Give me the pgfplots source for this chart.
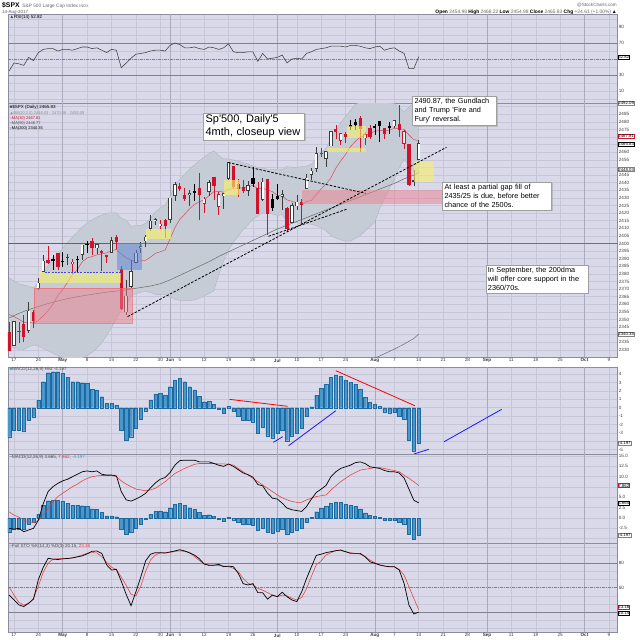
\documentclass[border=0pt]{standalone}
\usepackage{pgfplots}
\usepackage{pgfplotstable}
\pgfplotsset{compat=1.18}
\usetikzlibrary{shadows}
\usepackage{fontspec}
\setmainfont{Liberation Sans}

\definecolor{bgc}{RGB}{217,217,233}
\definecolor{gridc}{RGB}{198,198,216}
\definecolor{monthc}{RGB}{170,170,190}
\definecolor{framec}{RGB}{140,140,156}
\definecolor{cred}{RGB}{208,18,44}
\definecolor{cblk}{RGB}{60,60,60}
\definecolor{bbfill}{RGB}{198,204,214}
\definecolor{bbedge}{RGB}{176,182,194}
\definecolor{histf}{RGB}{72,152,204}
\definecolor{histd}{RGB}{30,105,160}
\definecolor{refl}{RGB}{128,128,142}
\definecolor{pinkc}{RGB}{236,128,142}
\definecolor{yelc}{RGB}{247,240,105}
\definecolor{bluec}{RGB}{95,135,212}
\definecolor{tickt}{RGB}{60,60,60}
\definecolor{ma50c}{RGB}{100,108,100}
\definecolor{ma200c}{RGB}{100,110,130}
\definecolor{sigc}{RGB}{232,60,60}
\definecolor{lred}{RGB}{245,35,35}
\definecolor{lgreen}{RGB}{35,165,45}

\newcommand\tf{\fontsize{4.6}{5}\selectfont}
\newcommand\lf{\fontsize{4.5}{5}\selectfont}
\newcommand\q{\textquotesingle}

% ---------- data ----------
\pgfplotstableread{
x o h l c
0 2332.62 2349.14 2332.51 2349.01
3 2342.69 2361.37 2340.91 2355.84
5 2370.33 2376.98 2369.19 2374.15
6 2381.51 2392.48 2381.15 2388.61
11 2391.05 2392.93 2385.82 2391.17
14 2392.37 2399.29 2389.38 2399.29
17 2396.79 2399.74 2392.79 2399.63
20 2393.98 2404.05 2393.94 2402.32
23 2354.69 2375.74 2352.72 2365.72
24 2371.37 2389.06 2370.43 2381.73
25 2387.21 2395.46 2386.92 2394.02
26 2397.04 2400.85 2393.88 2398.42
27 2401.41 2405.58 2397.99 2404.39
28 2409.54 2418.71 2408.01 2415.07
29 2414.50 2416.68 2412.20 2415.82
32 2415.65 2430.06 2413.54 2430.06
33 2431.28 2440.23 2427.71 2439.07
36 2432.03 2435.28 2424.75 2433.14
40 2434.15 2441.49 2431.28 2440.35
43 2431.24 2433.15 2422.88 2433.15
44 2442.55 2453.82 2441.79 2453.46
48 2434.65 2441.40 2431.11 2438.30
51 2428.70 2442.97 2428.02 2440.69
55 2430.78 2434.90 2422.05 2432.54
57 2413.52 2426.92 2413.52 2425.18
58 2424.51 2432.00 2422.27 2427.43
60 2435.75 2445.76 2435.75 2443.25
61 2444.99 2449.32 2441.69 2447.83
62 2449.16 2463.54 2446.69 2459.27
64 2455.88 2460.92 2450.34 2460.61
65 2463.85 2473.83 2463.85 2473.83
78 2477.14 2480.95 2475.88 2480.91
82 2441.04 2448.09 2437.85 2441.32
83 2454.98 2468.22 2454.98 2465.83
}\hb
\pgfplotstableread{
x o h l c
12 2386.50 2389.82 2379.75 2388.13
30 2411.67 2415.26 2409.43 2412.91
39 2425.88 2430.38 2419.97 2429.39
42 2424.14 2433.95 2418.53 2432.46
67 2467.40 2472.54 2465.06 2472.54
72 2469.12 2473.53 2464.66 2472.10
80 2465.35 2474.41 2462.08 2474.02
}\hr
\pgfplotstableread{
x o h l c
8 2389.70 2392.10 2382.68 2388.77
10 2388.50 2394.49 2384.83 2388.33
13 2389.79 2391.43 2380.35 2389.52
15 2399.94 2401.36 2393.92 2399.38
37 2434.27 2439.27 2427.94 2433.79
49 2443.32 2450.42 2437.03 2439.07
53 2429.20 2432.71 2421.65 2423.41
54 2431.39 2439.17 2428.69 2429.01
69 2477.88 2481.24 2474.91 2477.13
70 2479.97 2481.69 2474.94 2477.83
74 2477.10 2478.51 2471.14 2476.35
75 2480.38 2480.38 2466.48 2477.57
77 2476.88 2480.00 2472.08 2476.83
}\fb
\pgfplotstableread{
x o h l c
-1 2341.98 2348.26 2328.95 2328.95
1 2342.53 2348.35 2334.54 2342.19
2 2346.79 2352.63 2335.05 2338.17
4 2354.74 2356.18 2344.51 2348.69
7 2388.98 2398.16 2386.78 2387.45
9 2393.68 2393.68 2382.36 2384.20
16 2401.58 2403.87 2392.44 2396.92
18 2394.84 2395.72 2381.74 2394.44
19 2392.44 2392.44 2387.19 2390.90
21 2404.55 2405.77 2396.05 2400.67
22 2382.95 2384.87 2356.21 2357.03
31 2415.63 2415.99 2403.59 2411.80
34 2437.83 2439.54 2434.32 2436.10
35 2431.92 2436.21 2428.12 2429.33
38 2436.39 2446.20 2415.70 2431.77
41 2443.75 2443.75 2428.34 2437.92
45 2450.66 2450.66 2436.60 2437.03
46 2439.31 2442.23 2430.74 2435.61
47 2437.40 2441.62 2433.27 2434.50
50 2436.34 2440.15 2419.38 2419.38
52 2442.38 2442.73 2405.70 2419.70
56 2423.44 2424.28 2407.70 2409.75
59 2427.35 2429.30 2412.79 2425.53
63 2459.50 2462.82 2457.16 2459.14
66 2475.56 2477.62 2468.43 2473.45
68 2472.04 2473.10 2466.32 2469.91
71 2482.76 2484.04 2459.93 2475.42
73 2475.94 2477.96 2468.53 2470.30
76 2476.03 2476.03 2468.85 2472.16
79 2478.35 2490.87 2470.32 2474.92
81 2465.38 2465.38 2437.75 2438.21
}\fr
% Bollinger band outline: upper band forward, lower band backward
\pgfplotstableread{
x v
-1 2377.4
0 2375.3
1 2373.4
2 2372.7
3 2371.9
4 2370.8
5 2374.5
6 2380.9
7 2385.3
8 2389.5
9 2392.8
10 2396.8
11 2400.8
12 2404.2
13 2407.6
14 2410.8
15 2413.5
16 2415.5
17 2417.4
18 2418.6
19 2419.9
20 2420.2
21 2420.1
22 2416.6
23 2415.3
24 2411.2
25 2411.8
26 2411.9
27 2413.2
28 2416.5
29 2420.8
30 2423.3
31 2425.3
32 2431.0
33 2437.7
34 2442.2
35 2445.4
36 2448.8
37 2451.7
38 2454.4
39 2456.8
40 2459.0
41 2460.9
42 2457.7
43 2455.6
44 2455.6
45 2454.8
46 2454.2
47 2453.1
48 2452.3
49 2450.9
50 2449.8
51 2449.8
52 2448.7
53 2448.5
54 2448.7
55 2448.5
56 2450.6
57 2450.1
58 2450.1
59 2450.5
60 2450.9
61 2452.2
62 2455.7
63 2459.6
64 2462.4
65 2469.2
66 2474.7
67 2479.6
68 2483.6
69 2487.4
70 2491.4
71 2493.1
72 2495.4
73 2497.1
74 2498.7
75 2494.7
76 2493.8
77 2492.4
78 2492.1
79 2489.6
80 2486.7
81 2489.7
82 2492.3
83 2492.1
83 2448.0
82 2447.1
81 2451.6
80 2455.5
79 2449.6
78 2442.1
77 2436.4
76 2429.8
75 2422.7
74 2414.2
73 2411.1
72 2408.2
71 2405.1
70 2403.4
69 2401.5
68 2401.6
67 2402.4
66 2403.5
65 2405.2
64 2408.3
63 2410.4
62 2411.7
61 2412.6
60 2412.9
59 2412.9
58 2413.7
57 2414.1
56 2414.6
55 2418.9
54 2418.5
53 2419.3
52 2420.7
51 2420.6
50 2417.8
49 2416.0
48 2412.3
47 2409.1
46 2405.0
45 2400.8
44 2395.6
43 2388.4
42 2379.7
41 2368.9
40 2367.0
39 2365.5
38 2364.0
37 2362.9
36 2362.4
35 2362.2
34 2362.4
33 2363.3
32 2365.0
31 2366.5
30 2366.5
29 2366.5
28 2367.7
27 2368.4
26 2367.9
25 2367.0
24 2365.6
23 2358.2
22 2356.0
21 2350.6
20 2344.6
19 2339.6
18 2334.6
17 2331.0
16 2328.3
15 2326.3
14 2324.6
13 2323.6
12 2323.4
11 2324.0
10 2324.8
9 2326.1
8 2327.9
7 2329.3
6 2330.9
5 2332.5
4 2333.2
3 2331.9
2 2330.3
1 2330.2
0 2331.3
-1 2332.2
}\bbpoly
\pgfplotstableread{
x v
-1 2353.25
0 2351.88
1 2350.22
2 2348.02
3 2348.31
4 2347.43
5 2349.29
6 2352.43
7 2355.80
8 2360.18
9 2365.71
10 2369.64
11 2374.54
12 2379.53
13 2382.90
14 2387.96
15 2390.48
16 2391.32
17 2392.53
18 2393.10
19 2393.77
20 2395.17
21 2396.12
22 2393.01
23 2390.63
24 2388.87
25 2388.34
26 2388.49
27 2388.96
28 2391.03
29 2393.52
30 2394.58
31 2395.69
32 2402.99
33 2410.33
34 2415.77
35 2419.30
36 2422.77
37 2425.71
38 2427.38
39 2428.74
40 2431.48
41 2434.09
42 2434.33
43 2433.74
44 2435.48
45 2436.25
46 2436.49
47 2436.56
48 2437.22
49 2438.19
50 2436.09
51 2436.37
52 2435.09
53 2434.12
54 2431.67
55 2431.22
56 2428.64
57 2427.70
58 2426.62
59 2425.26
60 2427.65
61 2428.36
62 2432.32
63 2435.89
64 2439.05
65 2443.18
66 2449.55
67 2454.29
68 2458.54
69 2463.70
70 2467.15
71 2469.91
72 2471.20
73 2472.31
74 2473.89
75 2474.26
76 2474.13
77 2474.56
78 2475.66
79 2475.44
80 2475.06
81 2471.34
82 2468.26
83 2467.81
}\maten
\pgfplotstableread{
x v
-1 2351
1 2354
3 2356.5
5 2358.5
7 2360.5
10 2363
13 2365
16 2366.5
19 2368
22 2369
25 2370.5
28 2372
30 2373.5
32 2376
34 2379
36 2382
38 2385
40 2388
42 2391.5
44 2394.5
46 2397.5
48 2400.5
50 2403.5
52 2406.5
54 2409.5
56 2412
58 2414.5
60 2417
62 2419.5
64 2422
66 2424.5
68 2427
70 2429.5
72 2432
74 2434.5
76 2437
78 2439.5
80 2442.5
82 2445
83 2446.77
}\mafifty
\pgfplotstableread{
x v
72 2321.5
74 2324.5
76 2327.5
78 2330.5
80 2333.8
82 2337.5
83 2340.35
}\matwo
\pgfplotstableread{
x v
-1 35
0 45
1 44
2 42
3 52
4 48
5 58
6 62
7 63
8 63
9 60
10 62
11 62
12 61
13 63
14 65
15 65
16 63
17 64
18 61
19 58
20 62
21 61
22 39
23 45
24 51
25 56
26 57
27 58
28 60
29 61
30 61
31 60
32 67
33 70
34 68
35 64
36 64
37 65
38 63
39 62
40 65
41 64
42 62
43 64
44 69
45 59
46 58
47 58
48 59
49 59
50 47
51 57
52 50
53 51
54 52
55 55
56 45
57 50
58 51
59 50
60 57
61 59
62 62
63 63
64 64
65 66
66 66
67 66
68 65
69 67
70 67
71 66
72 64
73 63
74 65
75 66
76 61
77 63
78 64
79 60
80 57
81 38
82 38
83 52.82
}\rsi
\pgfplotstableread{
x v
-1 -3.47
0 -2.67
1 -2.67
2 -2.75
3 -1.48
4 -1.08
5 0.92
6 3.11
7 4.19
8 4.31
9 4.31
10 4.11
11 3.63
12 3.11
13 3.11
14 2.99
15 2.91
16 2.20
17 2.12
18 1.32
19 0.52
20 0.52
21 0.32
22 -2.67
23 -3.87
24 -3.47
25 -2.48
26 -1.40
27 -0.36
28 0.92
29 1.64
30 1.72
31 1.52
32 2.51
33 3.31
34 3.51
35 3.11
36 2.51
37 2.12
38 1.40
39 0.72
40 0.80
41 0.44
42 -0.20
43 -0.68
44 0.20
45 -0.40
46 -1.00
47 -1.48
48 -1.48
49 -1.68
50 -3.00
51 -2.36
52 -3.35
53 -3.59
54 -3.07
55 -2.67
56 -3.95
57 -3.35
58 -3.00
59 -2.48
60 -1.00
61 0.12
62 1.52
63 2.32
64 2.79
65 3.63
66 3.91
67 3.79
68 3.31
69 3.03
70 2.83
71 2.20
72 1.24
73 0.64
74 0.44
75 0.20
76 -0.48
77 -0.60
78 -0.56
79 -1.00
80 -1.40
81 -3.87
82 -5.15
83 -4.197
}\hist
\pgfplotstableread{
x m s
-1 -2.5 1.5
0 -2.7 0.7
1 -2.5 0.2
2 -3.3 -0.5
3 -2.9 -0.9
4 -2.5 -1.1
5 -0.5 -0.6
6 3.5 0.7
7 6.4 2.3
8 7.6 3.9
9 8.4 5.2
10 9.0 6.0
11 9.4 6.8
12 10.0 7.6
13 10.6 8.2
14 11.2 9.0
15 11.4 9.6
16 11.2 10.0
17 11.4 10.2
18 10.6 10.3
19 10.4 10.3
20 10.4 10.3
21 10.2 10.0
22 6.4 9.0
23 4.4 8.2
24 4.1 7.6
25 4.6 7.0
26 5.2 6.8
27 6.0 6.6
28 7.3 6.8
29 8.5 7.2
30 9.4 8.0
31 9.8 8.8
32 11.0 9.8
33 12.8 10.8
34 13.9 11.4
35 14.0 12.0
36 14.0 12.5
37 14.0 13.0
38 13.6 13.2
39 13.6 13.2
40 13.6 13.2
41 13.2 13.2
42 12.8 13.1
43 12.5 13.1
44 13.1 13.0
45 12.5 12.8
46 11.7 12.0
47 10.9 11.2
48 10.5 10.4
49 9.9 9.6
50 8.1 8.8
51 7.8 8.0
52 6.0 7.2
53 4.8 6.4
54 4.6 5.6
55 3.6 4.9
56 2.4 4.4
57 2.0 4.0
58 1.8 3.8
59 1.6 3.8
60 2.8 4.4
61 4.6 4.8
62 6.2 5.2
63 7.0 5.4
64 7.9 5.6
65 10.0 6.8
66 11.2 7.8
67 12.0 8.8
68 12.4 9.6
69 12.8 10.4
70 13.4 11.0
71 13.6 11.6
72 13.2 11.8
73 12.4 12.0
74 12.2 12.2
75 12.0 12.2
76 11.5 12.0
77 11.2 11.7
78 11.2 11.5
79 10.9 11.2
80 9.7 10.4
81 7.0 9.6
82 4.3 8.8
83 3.665 7.862
}\macd
\pgfplotstableread{
x k d
-1 41 51
0 35 41
1 29 32
2 27 28.8
3 31 30.8
4 36 37
5 60 52
6 75 69
7 86 80
8 85 85
9 84.5 85.5
10 85.3 85.5
11 85.8 85.5
12 86.5 86.5
13 87.7 88
14 89 90
15 91.5 92
16 94.5 92.9
17 94.9 92.5
18 92 88
19 78 81
20 71.6 75
21 72.5 72
22 58 63
23 42 53
24 28 42
25 45 40
26 63 52
27 83 70
28 91 84
29 92.9 90
30 92.9 92.5
31 92.3 92.9
32 93.8 93
33 95 94.5
34 96.5 95
35 95 94.5
36 92.5 93.5
37 90 88
38 85.5 83.5
39 79 79
40 77.3 77.8
41 77.6 77.3
42 78.5 77.3
43 75.7 76.5
44 76.4 75.7
45 75.7 73.7
46 67.6 69.6
47 55 61.4
48 53.3 55.3
49 55 53.3
50 44 49.2
51 43.9 47.1
52 36 43.9
53 41 41
54 39 39
55 44.5 41
56 39 40
57 35 37
58 33 35
59 45 38
60 61.4 49
61 75.7 64
62 89.6 78
63 91 83
64 92.9 90
65 94.1 92.9
66 95.3 95.3
67 96.1 95.3
68 94.1 94.1
69 92 92.9
70 92 92
71 92 91.2
72 88 88
73 81.8 83.9
74 79.8 80.6
75 77.8 77.8
76 76.5 76.5
77 75.7 75.7
78 75.7 75.7
79 71.6 72.4
80 55.3 65.5
81 28.8 51.2
82 17.8 36.9
83 20.15 23.16
}\sto

% ---------- styles ----------
\pgfplotsset{
 scp/.style={
  scale only axis, width=609.7pt, xmin=-1.23, xmax=123.81,
  anchor=north west,
  axis background/.style={fill=bgc},
  axis line style={draw=framec, line width=0.6pt},
  grid=major, major grid style={draw=gridc, line width=0.45pt},
  minor grid style={draw=gridc, line width=0.45pt},
  tick style={draw=none},
  xtick={0,5,15,20,25,30,34,39,44,49,58,63,68,78,83,88,93,102,107,112,122},
  xticklabels={},
  extra x ticks={10,32,54,74,97,117},
  extra x tick labels={},
  extra x tick style={grid=major, major grid style={draw=monthc, line width=0.55pt}},
  yticklabel pos=right,
  yticklabel style={font=\tf, text=tickt, inner sep=1pt},
  xticklabel style={font=\tf, text=tickt, inner sep=1pt, yshift=-0.5pt},
  /pgf/number format/1000 sep={},
  /pgf/number format/assume math mode=true,
 },
 datelabels/.style={
  xticklabels={17,24,8,15,22,30,5,12,19,26,10,17,24,7,14,21,28,11,18,25,9},
  extra x tick labels={\textbf{May},\textbf{Jun},\textbf{Jul},\textbf{Aug},\textbf{Sep},\textbf{Oct}},
 },
 wick/.style={draw=none, mark=none, forget plot, error bars/.cd, y dir=both, y explicit, error mark=none, error bar style={draw=#1, line width=0.6pt}},
 body/.style 2 args={draw=none, mark=none, forget plot, error bars/.cd, y dir=both, y explicit, error mark=none, error bar style={draw=#1, line width=#2}},
}
\newcommand\WICK[2]{\addplot[wick=#2] table[x=x, y expr={(\thisrow{h}+\thisrow{l})/2}, y error expr={(\thisrow{h}-\thisrow{l})/2}] {#1};}
\newcommand\BODY[2]{\addplot[body={#2}{3.3pt}] table[x=x, y expr={(\thisrow{o}+\thisrow{c})/2}, y error expr={max(abs(\thisrow{o}-\thisrow{c})/2,0.25)}] {#1};}
\newcommand\HOLE[1]{\addplot[body={white}{1.9pt}] table[x=x, y expr={(\thisrow{o}+\thisrow{c})/2}, y error expr={max(abs(\thisrow{o}-\thisrow{c})/2-0.42,0)}] {#1};}

\tikzset{
 tag/.style={draw=#1, fill=white, font=\fontsize{4.3}{4.6}\selectfont, inner sep=0.5pt, anchor=west, text=black, line width=0.4pt},
 note/.style={draw=gray!75, fill=white, line width=0.5pt, align=left, anchor=north west, inner sep=2pt,
   drop shadow={shadow xshift=1.2pt, shadow yshift=-1.2pt, fill=gray!70, opacity=0.6}},
}

\begin{document}
\begin{tikzpicture}[x=1pt,y=1pt]
\path[use as bounding box, fill=white] (0pt,0pt) rectangle (640pt,-640pt);

% ===== RSI =====
\begin{axis}[scp, at={(8pt,-14pt)}, height=89pt, ymin=-5, ymax=106.25,
  ytick={10,30,50,70,90}, yticklabels={10,30,{},70,90},
  minor ytick={0,20,40,60,80,100}, grid=both]
\draw[refl, line width=0.8pt] (axis cs:-1.23,70) -- (axis cs:123.81,70);
\draw[refl, line width=0.8pt] (axis cs:-1.23,30) -- (axis cs:123.81,30);
\draw[refl, line width=0.5pt, dash pattern=on 3pt off 1pt on 1pt off 1pt] (axis cs:-1.23,50) -- (axis cs:123.81,50);
\addplot[draw=black!75, line width=0.55pt] table[x=x,y=v]{\rsi};
\coordinate (tRSI) at (axis cs:123.81,52.82);
\end{axis}

% ===== Price =====
\begin{axis}[scp, datelabels, at={(8pt,-103pt)}, height=254pt, ymin=2325.3, ymax=2492.4,
  ytick={2330,2335,...,2490},
  yticklabels={2330,2335,{},2345,2350,2355,2360,2365,2370,2375,2380,2385,2390,2395,2400,2405,2410,2415,2420,2425,2430,2435,2440,2445,{},2455,2460,{},{},2475,2480,2485,{}}]
\addplot[fill=bbfill, draw=bbedge, line width=0.4pt] table[x=x,y=v]{\bbpoly};
\addplot[draw=ma50c, line width=0.5pt] table[x=x,y=v]{\mafifty};
\addplot[draw=ma200c, line width=0.5pt] table[x=x,y=v]{\matwo};
\addplot[draw=cred!80, line width=0.45pt] table[x=x,y=v]{\maten};
% 2400 reference line (red then green)
\draw[color=lred, line width=1pt] (axis cs:-1.23,2400) -- (axis cs:21.2,2400);
\draw[color=lgreen, line width=1pt] (axis cs:21.2,2400) -- (axis cs:123.81,2400);
% candles
\WICK{\hb}{cblk}
\WICK{\fb}{black}
\WICK{\hr}{cred}
\WICK{\fr}{cred}
\BODY{\hb}{cblk}
\HOLE{\hb}
\BODY{\hr}{cred}
\HOLE{\hr}
\BODY{\fb}{black}
\BODY{\fr}{cred}
% zones
\fill[pinkc, opacity=0.5] (axis cs:4.2,2347.9) rectangle (axis cs:24.3,2370.5);
\draw[pinkc!70!red, line width=0.3pt, opacity=0.6] (axis cs:4.2,2347.9) rectangle (axis cs:24.3,2370.5);
\fill[yelc, opacity=0.6] (axis cs:5.2,2374.2) rectangle (axis cs:21.9,2381.0);
\draw[blue!75, line width=0.7pt, dash pattern=on 2pt off 1.2pt] (axis cs:6.4,2381.0) -- (axis cs:21.9,2381.0);
\fill[bluec, opacity=0.55] (axis cs:21.2,2382.6) rectangle (axis cs:26.2,2400.1);
\fill[yelc, opacity=0.65] (axis cs:27.0,2403.2) rectangle (axis cs:32.1,2409.3);
\fill[yelc, opacity=0.65] (axis cs:43.1,2431.9) rectangle (axis cs:46.2,2441.8);
\fill[pinkc, opacity=0.5] (axis cs:59.0,2425.8) rectangle (axis cs:87.8,2435.2);
\fill[yelc, opacity=0.6] (axis cs:68.2,2469.2) rectangle (axis cs:72.1,2477.3);
\fill[yelc, opacity=0.6] (axis cs:64.1,2460.4) rectangle (axis cs:72.1,2462.6);
\fill[yelc, opacity=0.6] (axis cs:82.1,2440.7) rectangle (axis cs:86.1,2454.3);
% trend lines
\draw[black, line width=0.8pt, dash pattern=on 2.5pt off 1.5pt] (axis cs:23.3,2351.9) -- (axis cs:88.7,2463.3);
\draw[black, line width=0.8pt, dash pattern=on 2.5pt off 1.5pt] (axis cs:43.95,2453.2) -- (axis cs:72.1,2433.0);
\draw[black, line width=0.8pt, dash pattern=on 2.5pt off 1.5pt] (axis cs:52.2,2404.7) -- (axis cs:68.2,2422.5);
\coordinate (tBBU) at (axis cs:123.81,2492.09);
\coordinate (tMA10) at (axis cs:123.81,2470.8);
\coordinate (tPX) at (axis cs:123.81,2465.6);
\coordinate (tBBL) at (axis cs:123.81,2448.6);
\coordinate (tMA200) at (axis cs:123.81,2340.35);
\end{axis}

% ===== MACD histogram =====
\begin{axis}[scp, at={(8pt,-367pt)}, height=87pt, ymin=-5.54, ymax=4.87,
  ytick={-5,-4,...,4}, yticklabels={-5,{},-3,-2,-1,0,1,2,3,4}]
\addplot[ybar, bar width=3.3pt, fill=histf, draw=histd, line width=0.3pt] table[x=x,y=v]{\hist};
\draw[red, line width=0.8pt] (axis cs:44.2,1.0) -- (axis cs:56.1,0.17);
\draw[red, line width=0.8pt] (axis cs:66.0,4.43) -- (axis cs:82.2,0.24);
\draw[blue!90, line width=0.8pt] (axis cs:53.2,-4.14) -- (axis cs:55.1,-3.47);
\draw[blue!90, line width=0.8pt] (axis cs:56.3,-4.55) -- (axis cs:66.0,-0.36);
\draw[blue!90, line width=0.8pt] (axis cs:82.0,-5.54) -- (axis cs:85.1,-4.97);
\draw[blue!90, line width=0.8pt] (axis cs:88.2,-4.07) -- (axis cs:100.0,-0.2);
\coordinate (tHIST) at (axis cs:123.81,-4.197);
\end{axis}

% ===== MACD =====
\begin{axis}[scp, at={(8pt,-454pt)}, height=89pt, ymin=-6.05, ymax=15.5,
  ytick={-5,-2.5,...,15},
  yticklabels={{},-2.5,0.0,2.5,5.0,{},10.0,12.5,15.0}]
\addplot[ybar, bar width=3.3pt, fill=histf, draw=histd, line width=0.3pt] table[x=x,y=v]{\hist};
\addplot[draw=sigc, line width=0.55pt] table[x=x,y=s]{\macd};
\addplot[draw=black, line width=0.7pt] table[x=x,y=m]{\macd};
\coordinate (tSIG) at (axis cs:123.81,7.862);
\coordinate (tMACD) at (axis cs:123.81,3.665);
\coordinate (tMH) at (axis cs:123.81,-4.197);
\end{axis}

% ===== Full STO =====
\begin{axis}[scp, datelabels, at={(8pt,-543pt)}, height=89pt, ymin=-4.2, ymax=104.7,
  ytick={20,50,80}, yticklabels={{},50,80},
  minor ytick={0,10,30,40,60,70,90,100}, grid=both]
\draw[refl, line width=0.8pt] (axis cs:-1.23,80) -- (axis cs:123.81,80);
\draw[refl, line width=0.8pt] (axis cs:-1.23,20) -- (axis cs:123.81,20);
\draw[refl, line width=0.5pt, dash pattern=on 3pt off 1pt on 1pt off 1pt] (axis cs:-1.23,50) -- (axis cs:123.81,50);
\addplot[draw=sigc, line width=0.55pt] table[x=x,y=d]{\sto};
\addplot[draw=black, line width=0.7pt] table[x=x,y=k]{\sto};
\coordinate (tD) at (axis cs:123.81,26.3);
\coordinate (tK) at (axis cs:123.81,18.6);
\end{axis}

% ===== value tags =====
\node[tag=black] at (tRSI) {52.82};
\node[tag=gray] at (tBBU) {2492.09};
\node[tag=cred] at (tMA10) {2467.81};
\node[tag=black] at (tPX) {2465.83};
\node[tag=gray] at (tBBL) {2448.03};
\node[tag=gray] at (tMA200) {2340.35};
\node[tag=gray] at (tHIST) {-4.197};
\node[tag=cred] at (tSIG) {7.862};
\node[tag=black] at (tMACD) {3.665};
\node[tag=gray] at (tMH) {-4.197};
\node[tag=cred] at (tD) {23.16};
\node[tag=black] at (tK) {20.15};

% ===== header =====
\node[anchor=base west, inner sep=0] at (2pt,-7pt) {{\fontsize{6.8}{7}\selectfont\bfseries \$SPX}\ {\fontsize{4.8}{5}\selectfont\color{black!60} S\&P 500 Large Cap Index \fontsize{3.8}{4}\selectfont INDX}};
\node[anchor=base west, inner sep=0, font=\fontsize{4.5}{5}\selectfont, text=black!65] at (2pt,-13pt) {14-Aug-2017};
\node[anchor=base east, inner sep=0, font=\fontsize{4.6}{5}\selectfont, text=black!60] at (617pt,-6pt) {@StockCharts.com};
\node[anchor=base east, inner sep=0, font=\fontsize{4.9}{5}\selectfont, text=black!60] at (617pt,-13pt) {{\color{black}\textbf{Open}} 2454.98 {\color{black}\textbf{High}} 2468.22 {\color{black}\textbf{Low}} 2454.98 {\color{black}\textbf{Close}} 2465.83 {\color{black}\textbf{Chg}} +24.61 (+1.00\%)\,{\color{black}▲}};

% ===== panel labels =====
\node[anchor=west, inner sep=0, font=\lf] at (9.5pt,-17.3pt) {{\color{green!40!black}▲}RSI(14) 52.82};
\node[anchor=west, inner sep=0, font=\lf] at (9.5pt,-107.5pt) {{\color{black!70}■}\$SPX (Daily) 2465.83};
\node[anchor=west, inner sep=0, font=\fontsize{4}{4.5}\selectfont, text=black!45] at (9.5pt,-113.3pt) {▲BB(20,2.0) 2448.03 - 2470.06 - 2492.09};
\node[anchor=west, inner sep=0, font=\fontsize{4}{4.5}\selectfont, text=cred] at (9.5pt,-118.6pt) {–MA(10) 2467.81};
\node[anchor=west, inner sep=0, font=\fontsize{4}{4.5}\selectfont, text=black!70] at (9.5pt,-123.7pt) {–MA(50) 2446.77};
\node[anchor=west, inner sep=0, font=\fontsize{4}{4.5}\selectfont, text=black] at (9.5pt,-128.9pt) {–MA(200) 2340.35};
\node[anchor=west, inner sep=0, font=\lf, text=black!70] at (9.5pt,-369.2pt) {{\color{histf}■}MACD(12,26,9) Hist -4.197};
\node[anchor=west, inner sep=0, font=\lf, text=black!70] at (9.5pt,-457.7pt) {–MACD(12,26,9) 3.665, {\color{sigc}7.862}, {\color{histf}-4.197}};
\node[anchor=west, inner sep=0, font=\lf, text=black!70] at (9.5pt,-546.7pt) {–Full STO \%K(14,3) \%D(3) 20.15, {\color{sigc}23.16}};

% ===== notes =====
\node[note, text width=97pt, font=\fontsize{11}{12.8}\selectfont] at (203.3pt,-112.7pt) {Sp\q500, Daily\q5\\4mth, closeup view};
\node[note, text width=80pt, font=\fontsize{7.3}{9.2}\selectfont] at (412.3pt,-96pt) {2490.87, the Gundlach\\and Trump \q Fire and\\Fury\q{} reversal.};
\node[note, text width=105pt, font=\fontsize{7.3}{9.2}\selectfont] at (442.3pt,-182pt) {At least a partial gap fill of\\2435/25 is due, before better\\chance of the 2500s.};
\node[note, text width=98pt, font=\fontsize{7.3}{9.2}\selectfont] at (485.7pt,-265pt) {In September, the 200dma\\will offer core support in the\\2360/70s.};
\end{tikzpicture}
\end{document}
